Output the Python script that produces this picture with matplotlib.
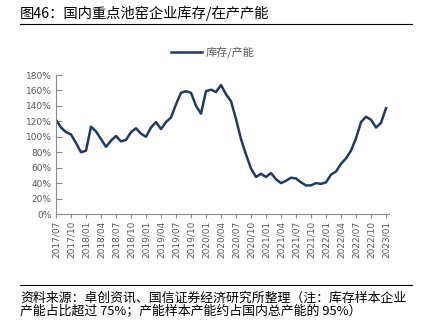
import numpy as np
import matplotlib.pyplot as plt

plt.rcParams['font.family'] = ['Noto Sans CJK SC', 'DejaVu Sans']

# monthly values, 2017/07 .. 2023/01 (%)
values = [122, 112, 106, 103, 92, 80, 82, 113, 107, 97,
          87, 95, 101, 94, 96, 106, 111, 104, 100, 112,
          119, 110, 119, 125, 142, 157, 159, 157, 140, 130,
          159, 161, 158, 167, 155, 146, 123, 97, 77, 59,
          48, 52, 48, 53, 45, 40, 43, 47, 46, 41,
          37, 37, 40, 39, 41, 51, 55, 65, 72, 82,
          98, 119, 126, 122, 112, 118, 137]
months = np.arange(len(values))

tick_labels = []
for y in range(2017, 2024):
    for m in ("01", "04", "07", "10"):
        tick_labels.append(f"{y}/{m}")
tick_labels = tick_labels[2:-3]  # 2017/07 .. 2023/01
tick_pos = np.arange(len(tick_labels)) * 3

yticks = np.arange(0, 181, 20)

fig = plt.figure(figsize=(4.25, 3.22), dpi=100)
ax = fig.add_axes([56 / 425, 108 / 322, 333 / 425, 139 / 322])

line, = ax.plot(months, values, color="#1F3A68", lw=1.8, label="库存/产能")

ax.set_xlim(0, 66.6)
ax.set_ylim(0, 180)
ax.set_xticks(tick_pos)
ax.set_xticklabels(tick_labels, rotation=90, fontsize=6.5, color="#595959",
                   family="DejaVu Sans")
ax.set_yticks(yticks)
ax.set_yticklabels([f"{v}%" for v in yticks], fontsize=6.5, color="#595959",
                   family="DejaVu Sans")
for s in ("top", "right"):
    ax.spines[s].set_visible(False)
for s in ("left", "bottom"):
    ax.spines[s].set_color("#8C8C8C")
ax.tick_params(axis="x", direction="out", length=3, color="#8C8C8C", pad=2)
ax.tick_params(axis="y", direction="in", length=4, color="#8C8C8C", pad=3)

fig.legend(handles=[line], loc="center", bbox_to_anchor=(0.5, 1 - 52 / 322),
           frameon=False, fontsize=8, labelcolor="#595959",
           handlelength=2.8, handletextpad=0.3)

# title and rules
fig.text(20 / 425, 1 - 13 / 322, "图46：国内重点池窑企业库存/在产产能",
         fontsize=10.3, va="center", ha="left", color="#000000")
fig.add_artist(plt.Line2D([20 / 425, 412 / 425], [1 - 24 / 322, 1 - 24 / 322],
                          color="#000000", lw=0.8))
fig.add_artist(plt.Line2D([20 / 425, 412 / 425], [1 - 285 / 322, 1 - 285 / 322],
                          color="#000000", lw=0.8))
fig.text(20 / 425, 1 - 298 / 322,
         "资料来源：卓创资讯、国信证券经济研究所整理（注：库存样本企业",
         fontsize=9.3, va="center", ha="left")
fig.text(20 / 425, 1 - 312 / 322,
         "产能占比超过 75%；产能样本产能约占国内总产能的 95%）",
         fontsize=9.3, va="center", ha="left")

fig.savefig("out.png", dpi=100)
